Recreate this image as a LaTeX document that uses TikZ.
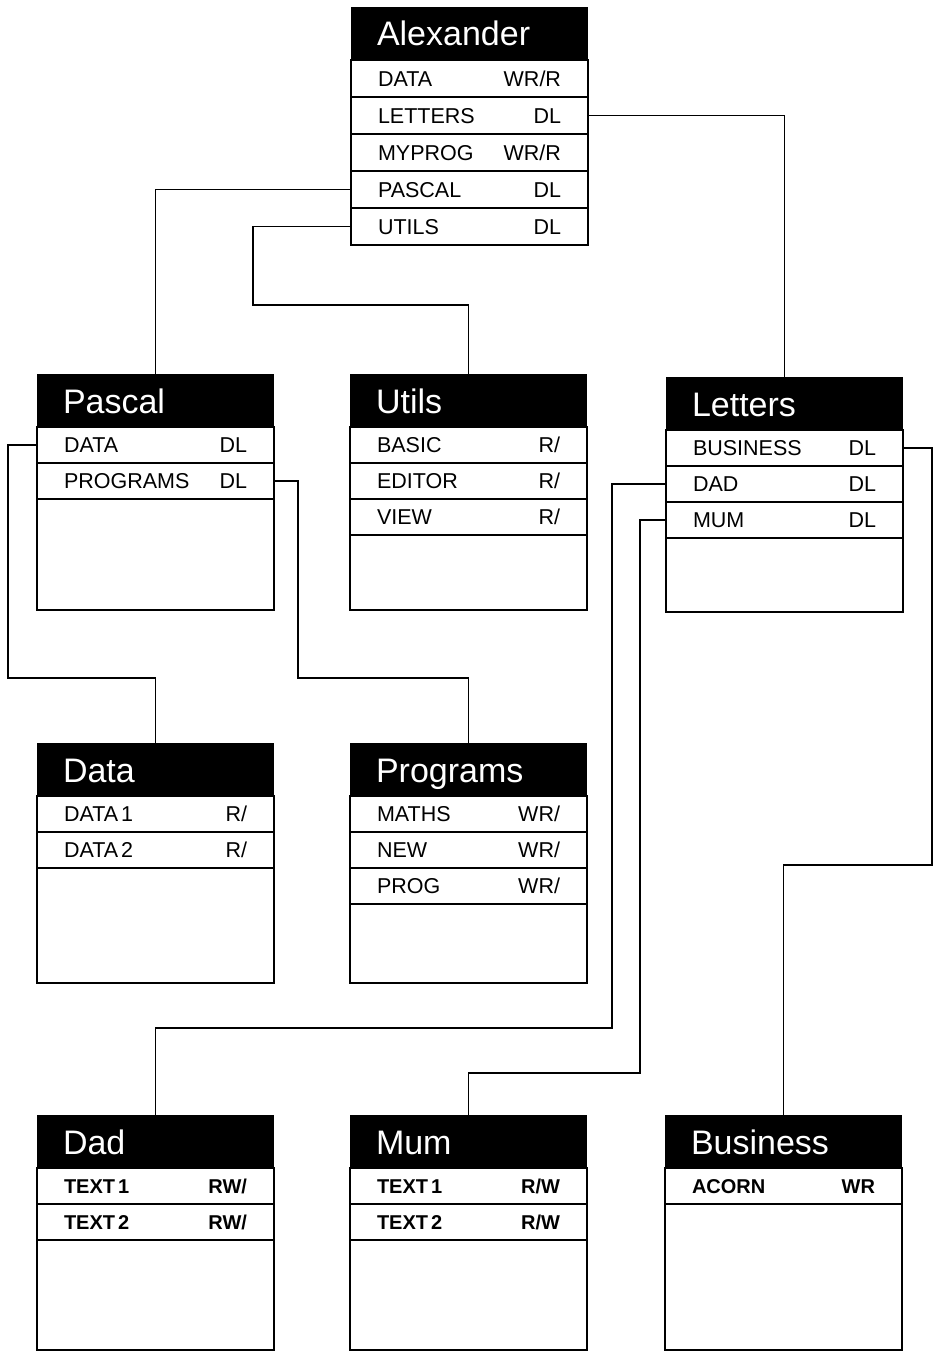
\documentclass[tikz,border=0pt]{standalone}
\usepackage{fontspec}
\setmainfont{Liberation Sans}
\usetikzlibrary{positioning}

\newcommand{\headfont}{\fontsize{34}{36}\selectfont}
\newcommand{\entryfont}{\fontsize{21.5}{24}\selectfont}
\newcommand{\filefont}{\bfseries\fontsize{20}{22}\selectfont}

\tikzset{
  dirhead/.style={rectangle, fill=black, text=white, anchor=north west,
    minimum width=237, minimum height=53, inner xsep=26pt, inner ysep=0pt,
    text width=185pt, text height=25pt, text depth=0pt,
    outer sep=0pt, font=\headfont},
  entry/.style={rectangle, draw, line width=2pt, minimum width=237,
    minimum height=36, inner xsep=27pt, inner ysep=0pt,
    text width=183pt, text height=15.5pt, text depth=0pt,
    outer sep=0pt, font=\entryfont},
  blank/.style={rectangle, draw, line width=2pt, minimum width=237, outer sep=0pt},
  link/.style={line width=1.8pt}
}

\begin{document}
\begin{tikzpicture}[x=1pt, y=-1pt]
  \useasboundingbox (0,0) rectangle (937,1354);

  % Root directory
  \node[dirhead] (alex) at (351,7) {Alexander};
  \node[entry, minimum height=37, below=0pt of alex] (alexdata) {DATA\hfill WR/R};
  \node[entry, minimum height=37, below=0pt of alexdata] (alexletters) {LETTERS\hfill DL};
  \node[entry, minimum height=37, below=0pt of alexletters] (alexmyprog) {MYPROG\hfill WR/R};
  \node[entry, minimum height=37, below=0pt of alexmyprog] (alexpascal) {PASCAL\hfill DL};
  \node[entry, minimum height=37, below=0pt of alexpascal] (alexutils) {UTILS\hfill DL};

  % Second level
  \node[dirhead] (pascal) at (37,374) {Pascal};
  \node[entry, below=0pt of pascal] (pascaldata) {DATA\hfill DL};
  \node[entry, below=0pt of pascaldata] (pascalprograms) {PROGRAMS\hfill DL};
  \node[blank, minimum height=111, below=0pt of pascalprograms] (pascalrest) {};

  \node[dirhead] (utils) at (350,374) {Utils};
  \node[entry, below=0pt of utils] (utilsbasic) {BASIC\hfill R/};
  \node[entry, below=0pt of utilsbasic] (utilseditor) {EDITOR\hfill R/};
  \node[entry, below=0pt of utilseditor] (utilsview) {VIEW\hfill R/};
  \node[blank, minimum height=75, below=0pt of utilsview] (utilsrest) {};

  \node[dirhead] (letters) at (666,377) {Letters};
  \node[entry, below=0pt of letters] (lettersbusiness) {BUSINESS\hfill DL};
  \node[entry, below=0pt of lettersbusiness] (lettersdad) {DAD\hfill DL};
  \node[entry, below=0pt of lettersdad] (lettersmum) {MUM\hfill DL};
  \node[blank, minimum height=74, below=0pt of lettersmum] (lettersrest) {};

  % Third level
  \node[dirhead] (data) at (37,743) {Data};
  \node[entry, below=0pt of data] (datadata1) {DATA\kern3pt 1\hfill R/};
  \node[entry, below=0pt of datadata1] (datadata2) {DATA\kern3pt 2\hfill R/};
  \node[blank, minimum height=115, below=0pt of datadata2] (datarest) {};

  \node[dirhead] (programs) at (350,743) {Programs};
  \node[entry, below=0pt of programs] (programsmaths) {MATHS\hfill WR/};
  \node[entry, below=0pt of programsmaths] (programsnew) {NEW\hfill WR/};
  \node[entry, below=0pt of programsnew] (programsprog) {PROG\hfill WR/};
  \node[blank, minimum height=79, below=0pt of programsprog] (programsrest) {};

  % Letters subdirectories
  \node[dirhead] (dad) at (37,1115) {Dad};
  \node[entry, font=\filefont, below=0pt of dad] (dadtext1) {TEXT\kern3pt 1\hfill RW/};
  \node[entry, font=\filefont, below=0pt of dadtext1] (dadtext2) {TEXT\kern3pt 2\hfill RW/};
  \node[blank, minimum height=110, below=0pt of dadtext2] (dadrest) {};

  \node[dirhead] (mum) at (350,1115) {Mum};
  \node[entry, font=\filefont, below=0pt of mum] (mumtext1) {TEXT\kern3pt 1\hfill R/W};
  \node[entry, font=\filefont, below=0pt of mumtext1] (mumtext2) {TEXT\kern3pt 2\hfill R/W};
  \node[blank, minimum height=110, below=0pt of mumtext2] (mumrest) {};

  \node[dirhead] (business) at (665,1115) {Business};
  \node[entry, font=\filefont, below=0pt of business] (businessacorn) {ACORN\hfill WR};
  \node[blank, minimum height=146, below=0pt of businessacorn] (businessrest) {};

  % Links from Alexander
  \draw[link] (alexpascal.west) -| (pascal.north);
  \draw[link] (alexutils.west) -| (253,305) -| (utils.north);
  \draw[link] (alexletters.east) -| (letters.north);

  % Links from Pascal
  \draw[link] (pascaldata.west) -| (8,678) -| (data.north);
  \draw[link] (pascalprograms.east) -| (298,678) -| (programs.north);

  % Links from Letters
  \draw[link] (lettersbusiness.east) -| (932,865) -| (business.north);
  \draw[link] (lettersdad.west) -| (612,1028) -| (dad.north);
  \draw[link] (lettersmum.west) -| (640,1073) -| (mum.north);

\end{tikzpicture}
\end{document}
